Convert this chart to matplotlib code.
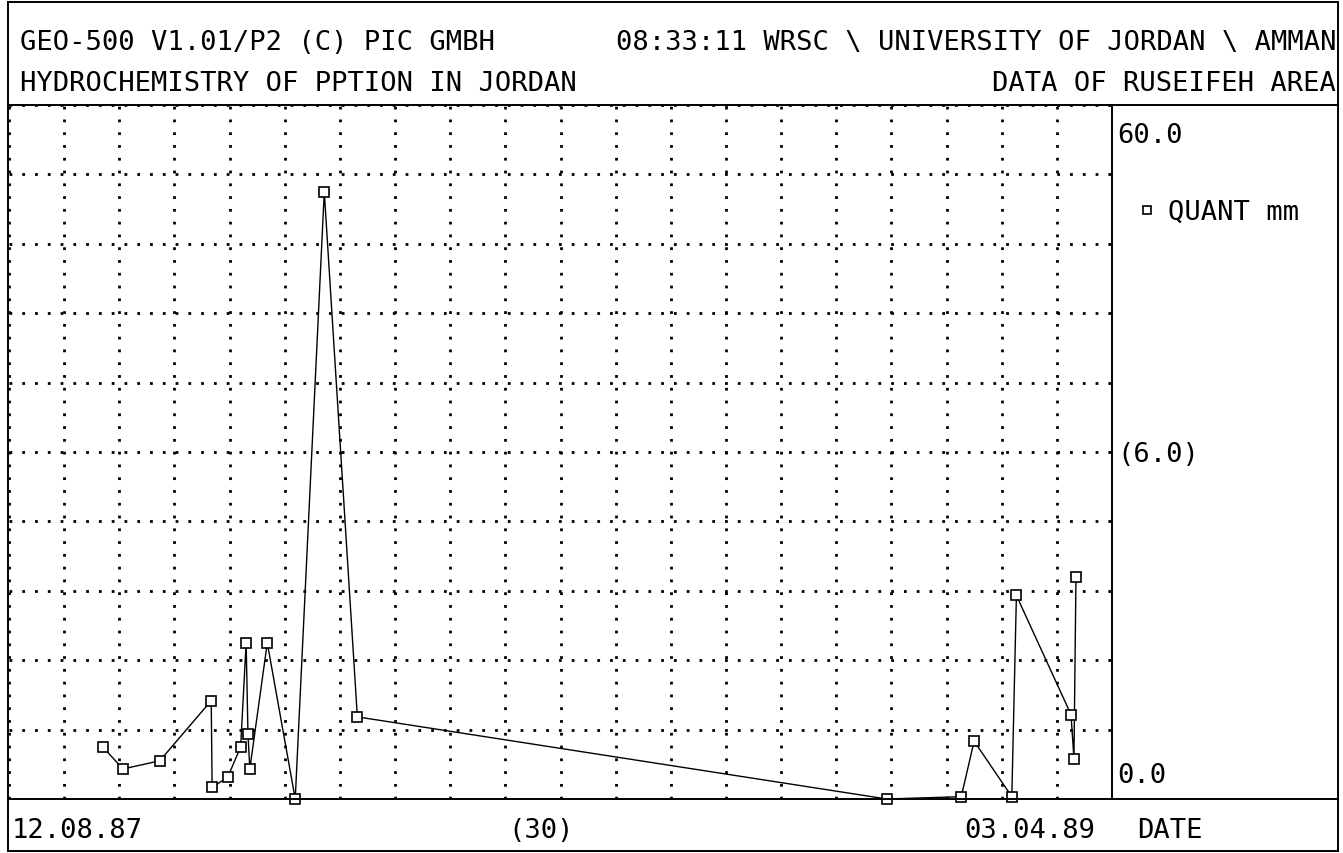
import numpy as np
import matplotlib
matplotlib.use('Agg')
import matplotlib.pyplot as plt
from matplotlib.lines import Line2D

# period of the plot and spacing of the grid
start = np.datetime64('1987-08-12')
end = np.datetime64('1989-04-03')
day_step = 30
y_max = 60.0
y_step = 6.0

# sampling days (days after start) and rain quantity in mm
days = [51, 62, 82, 110, 110.5, 119, 126, 129, 130, 131, 140.5, 155.7, 171.5,
        189.5, 477.5, 518, 525, 545.5, 548, 577.7, 579.3, 580.4]
quant = [4.5, 2.6, 3.3, 8.5, 1.0, 1.9, 4.5, 13.5, 5.6, 2.6, 13.5, 0.0, 52.5,
         7.1, 0.0, 0.2, 5.0, 0.2, 17.6, 7.3, 3.5, 19.2]

W, H = 1343, 854
FONT = 'DejaVu Sans Mono'
FS = 19.5


def fx(x):
    return x / W


def fy(y):
    return 1 - y / H


n_days = int((end - start) / np.timedelta64(1, 'D'))

fig = plt.figure(figsize=(W / 100, H / 100), dpi=100)
fig.patch.set_facecolor('white')

# plot area
ax = fig.add_axes([fx(9), fy(800), fx(1112) - fx(9), fy(106) - fy(800)])
ax.plot(days, quant, color='black', lw=1.0, marker='s', ms=7,
        mfc='white', mec='black', mew=1.2, clip_on=False, zorder=3)
ax.set_xlim(0, n_days)
ax.set_ylim(0, y_max)
ax.set_xticks(np.arange(0, n_days + 1, day_step))
ax.set_yticks(np.arange(0, y_max + 0.1, y_step))
ax.grid(True, color='black', lw=2.0, linestyle=(0, (1.0, 3.6)))
ax.tick_params(length=0, labelbottom=False, labelleft=False)
for side in ['left', 'top', 'bottom']:
    ax.spines[side].set_visible(False)
ax.spines['right'].set_linewidth(1.4)

# page frame and separators
lines = [
    ([8, 1338], [3, 3]), ([8, 1338], [852, 852]),
    ([8, 8], [3, 852]), ([1338, 1338], [3, 852]),
    ([8, 1338], [106, 106]), ([8, 1338], [800, 800]),
]
for xs, ys in lines:
    fig.add_artist(Line2D([fx(v) for v in xs], [fy(v) for v in ys],
                          color='black', lw=1.4))


def txt(x, y, s, ha='left'):
    fig.text(fx(x), fy(y), s, ha=ha, va='baseline', fontsize=FS,
             family=FONT, color='black')


# header
txt(20, 50, 'GEO-500 V1.01/P2 (C) PIC GMBH')
txt(1336, 50, '08:33:11 WRSC \\ UNIVERSITY OF JORDAN \\ AMMAN', ha='right')
txt(20, 91, 'HYDROCHEMISTRY OF PPTION IN JORDAN')
txt(1336, 91, 'DATA OF RUSEIFEH AREA', ha='right')

# right panel
txt(1117, 143, '%.1f' % y_max)
txt(1117, 462, '(%.1f)' % y_step)
txt(1117, 783, '%.1f' % 0)

handle = Line2D([], [], ls='none', marker='s', ms=6, mfc='white',
                mec='black', mew=1.2)
fig.legend([handle], ['QUANT mm'], loc='center left',
           bbox_to_anchor=(fx(1133), fy(213)), frameon=False,
           handlelength=1.0, handletextpad=0.3, borderpad=0,
           borderaxespad=0, prop={'family': FONT, 'size': FS})

# bottom strip
fmt = lambda d: d.astype(object).strftime('%d.%m.%y')
txt(12, 838, fmt(start))
txt(541, 838, '(%d)' % day_step, ha='center')
txt(1095, 838, fmt(end), ha='right')
txt(1137, 838, 'DATE')

fig.savefig('out.png', dpi=100)
